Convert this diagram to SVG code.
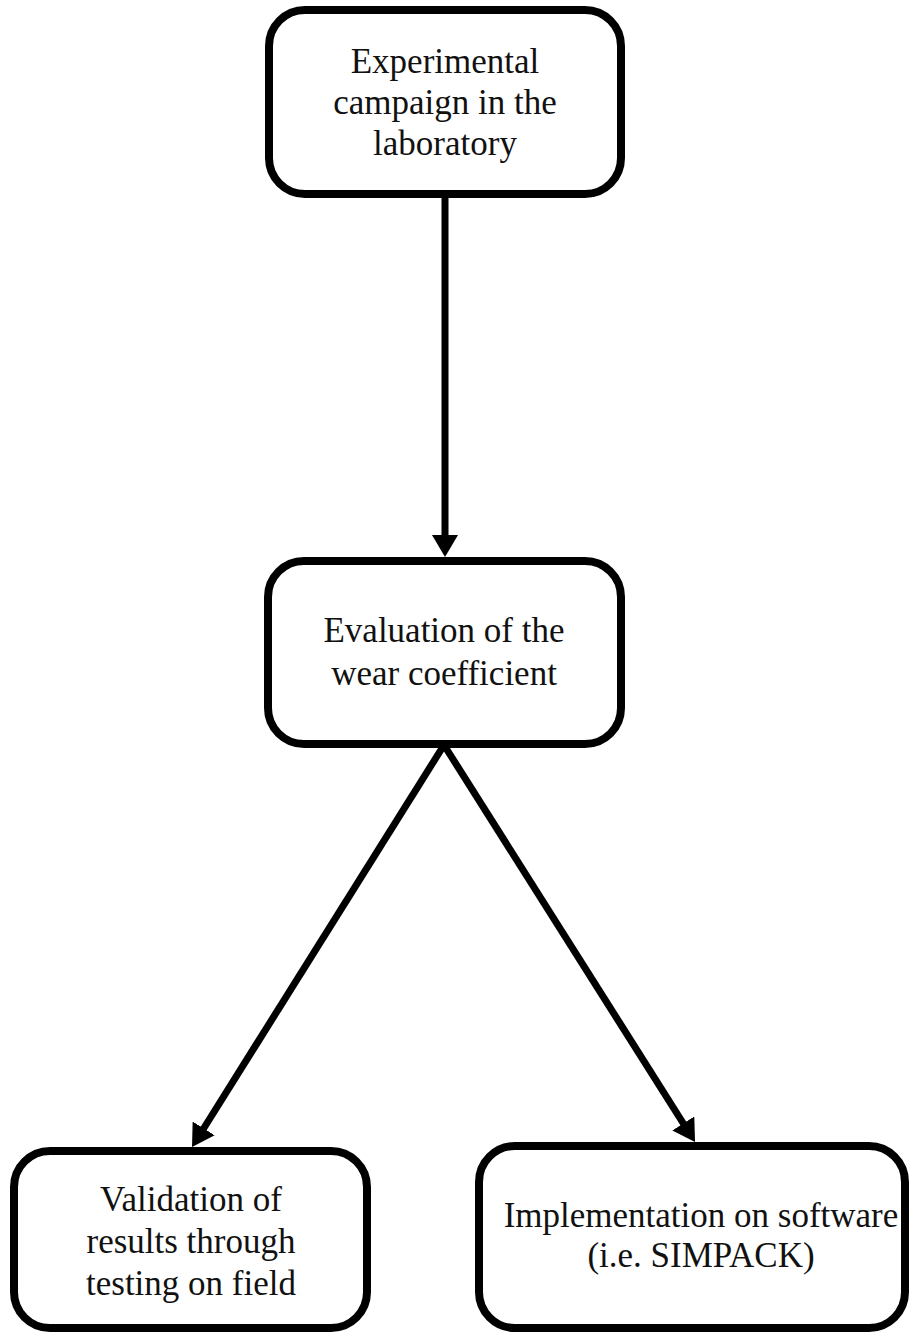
<svg xmlns="http://www.w3.org/2000/svg" width="910" height="1332" viewBox="0 0 910 1332">
  <style>
    .box { fill: #ffffff; stroke: #000000; stroke-width: 8; }
    .lbl { font-family: "Liberation Serif", "Times New Roman", serif; font-size: 35px; fill: #111111; text-anchor: middle; }
    .conn { stroke: #000000; stroke-width: 7; fill: none; }
  </style>
  <defs>
    <marker id="arrow" markerUnits="userSpaceOnUse" markerWidth="22" markerHeight="26" viewBox="0 0 22 26" refX="6" refY="13" orient="auto">
      <path d="M0,0 L22,13 L0,26 z" fill="#000000"/>
    </marker>
  </defs>
  <rect width="910" height="1332" fill="#ffffff"/>

  <g id="connectors">
    <line class="conn" x1="445" y1="198" x2="445" y2="541" marker-end="url(#arrow)"/>
    <line class="conn" x1="444" y1="745" x2="200.5" y2="1133.5" marker-end="url(#arrow)"/>
    <line class="conn" x1="444" y1="745" x2="686.5" y2="1128.5" marker-end="url(#arrow)"/>
  </g>

  <g id="node-experimental">
    <rect class="box" x="269" y="10" width="352" height="184" rx="36" ry="36"/>
    <text class="lbl" x="445" y="73">Experimental</text>
    <text class="lbl" x="445" y="114">campaign in the</text>
    <text class="lbl" x="445" y="155">laboratory</text>
  </g>

  <g id="node-evaluation">
    <rect class="box" x="268" y="561" width="353" height="183" rx="36" ry="36"/>
    <text class="lbl" x="444" y="642">Evaluation of the</text>
    <text class="lbl" x="444" y="685">wear coefficient</text>
  </g>

  <g id="node-validation">
    <rect class="box" x="14" y="1151" width="353" height="177" rx="36" ry="36"/>
    <text class="lbl" x="191" y="1211">Validation of</text>
    <text class="lbl" x="191" y="1253">results through</text>
    <text class="lbl" x="191" y="1295">testing on field</text>
  </g>

  <g id="node-implementation">
    <rect class="box" x="479" y="1146" width="426" height="182" rx="36" ry="36"/>
    <text class="lbl" x="701" y="1227">Implementation on software</text>
    <text class="lbl" x="701" y="1267">(i.e. SIMPACK)</text>
  </g>
</svg>
